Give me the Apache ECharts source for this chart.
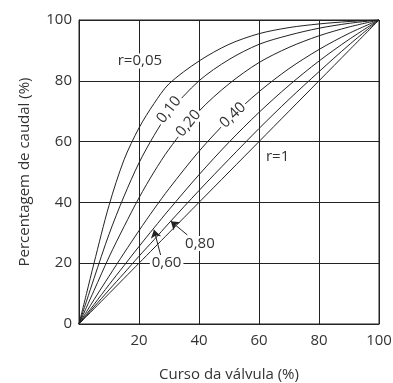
<!DOCTYPE html>
<html lang="pt" style="height: 100%">
<head>
  <meta charset="utf-8">
  <title>Curvas caracteristicas da valvula</title>
</head>
<body style="height: 100%; margin: 0; background: #fff">
  <div id="container" style="width: 393px; height: 383px"></div>
  <script type="text/javascript" src="https://cdn.jsdelivr.net/npm/echarts@6/dist/echarts.min.js"></script>
  <script type="text/javascript">
    // curso da valvula (%), comum a todas as curvas
    const travel = [0, 2.5, 5, 10, 15, 20, 25, 30, 40, 50, 60, 70, 80, 90, 100];

    // percentagem de caudal (%) lida em cada curva
    const r005 = [0, 10, 20, 39, 54, 64.5, 72.5, 79, 86.5, 92, 95.5, 97.5, 98.7, 99.5, 100];
    const r010 = [0, 7.5, 15, 29.5, 42, 53, 62, 69.5, 80, 87, 92, 95, 97.3, 98.9, 100];
    const r020 = [0, 5.5, 11, 22, 32, 41.5, 50, 57.5, 70, 79, 86, 91, 94.8, 97.7, 100];
    const r040 = [0, 4, 8, 15.7, 23.3, 30.7, 37.8, 44.5, 56.8, 67.4, 76.4, 84, 90.3, 95.6, 100];
    const r060 = [0, 3.2, 6.4, 12.9, 19.2, 25.5, 31.6, 37.6, 49.1, 59.8, 69.6, 78.5, 86.5, 93.6, 100];
    const r080 = [0, 2.8, 5.6, 11.2, 16.7, 22.3, 27.7, 33.2, 43.9, 54.2, 64.3, 73.9, 83, 91.8, 100];
    const r100 = [0, 2.5, 5, 10, 15, 20, 25, 30, 40, 50, 60, 70, 80, 90, 100];

    const curves = [r005, r010, r020, r040, r060, r080, r100];

    // etiquetas das curvas: texto, posicao (curso, caudal), rotacao
    const labelText = ['r=0,05', '0,10', '0,20', '0,40', '0,60', '0,80', 'r=1'];
    const labelPos = [[20.3, 86.5], [30, 70.5], [36.5, 66], [51.3, 68.7], [29.2, 20], [40.3, 26.5], [66.2, 54.9]];
    const labelRot = [0, 52, 50, 44, 0, 0, 0];

    // setas das etiquetas 0,60 e 0,80: [inicio, ponta]
    const arrows = [null, null, null, null, [[27.2, 22.7], [25, 31]], [[36.1, 29.3], [30.6, 33.8]], null];

    const ticks = [0, 20, 40, 60, 80, 100];

    const font = 'Open Sans';
    const ink = '#222';
    const textColor = '#333';

    var dom = document.getElementById('container');
    var myChart = echarts.init(dom, null, { renderer: 'canvas' });

    const series = curves.map(function (vals, i) {
      const s = {
        type: 'line',
        data: travel.map(function (t, j) { return [t, vals[j]]; }),
        showSymbol: false,
        smooth: 0.3,
        lineStyle: { color: ink, width: 1 },
        silent: true,
        z: 3,
        markPoint: {
          silent: true,
          symbol: 'circle',
          symbolSize: 0,
          data: [{ coord: labelPos[i], value: labelText[i] }],
          label: {
            show: true,
            position: 'inside',
            formatter: labelText[i],
            rotate: labelRot[i],
            color: textColor,
            fontFamily: font,
            fontSize: 15,
            backgroundColor: i === 6 ? 'transparent' : '#fff',
            padding: [0, 2]
          }
        }
      };
      if (arrows[i]) {
        s.markLine = {
          silent: true,
          symbol: ['none', 'arrow'],
          symbolSize: 8,
          lineStyle: { color: ink, width: 1, type: 'solid' },
          itemStyle: { color: ink },
          label: { show: false },
          data: [[
            { coord: arrows[i][0], symbol: 'none' },
            { coord: arrows[i][1], symbol: 'arrow', symbolSize: 8 }
          ]]
        };
      }
      return s;
    });

    var option = {
      animation: false,
      backgroundColor: '#fff',
      grid: {
        left: 79,
        right: 14,
        top: 20,
        bottom: 59,
        outerBoundsMode: 'none',
        show: true,
        borderColor: ink,
        borderWidth: 1
      },
      xAxis: {
        type: 'value',
        min: ticks[0],
        max: ticks[ticks.length - 1],
        interval: 20,
        name: 'Curso da válvula (%)',
        nameLocation: 'middle',
        nameGap: 43,
        nameTextStyle: { color: textColor, fontFamily: font, fontSize: 15 },
        axisLine: { show: true, lineStyle: { color: ink, width: 1 } },
        axisTick: { show: false },
        axisLabel: {
          color: textColor,
          fontFamily: font,
          fontSize: 15,
          margin: 9,
          formatter: function (v) { return v === 0 ? '' : String(v); }
        },
        splitLine: { show: true, lineStyle: { color: ink, width: 1 } }
      },
      yAxis: {
        type: 'value',
        min: ticks[0],
        max: ticks[ticks.length - 1],
        interval: 20,
        name: 'Percentagem de caudal (%)',
        nameLocation: 'middle',
        nameGap: 47,
        nameTextStyle: { color: textColor, fontFamily: font, fontSize: 15 },
        axisLine: { show: true, lineStyle: { color: ink, width: 1 } },
        axisTick: { show: false },
        axisLabel: { color: textColor, fontFamily: font, fontSize: 15, margin: 7 },
        splitLine: { show: true, lineStyle: { color: ink, width: 1 } }
      },
      series: series
    };

    myChart.setOption(option);
    window.addEventListener('resize', myChart.resize);
  </script>
</body>
</html>
